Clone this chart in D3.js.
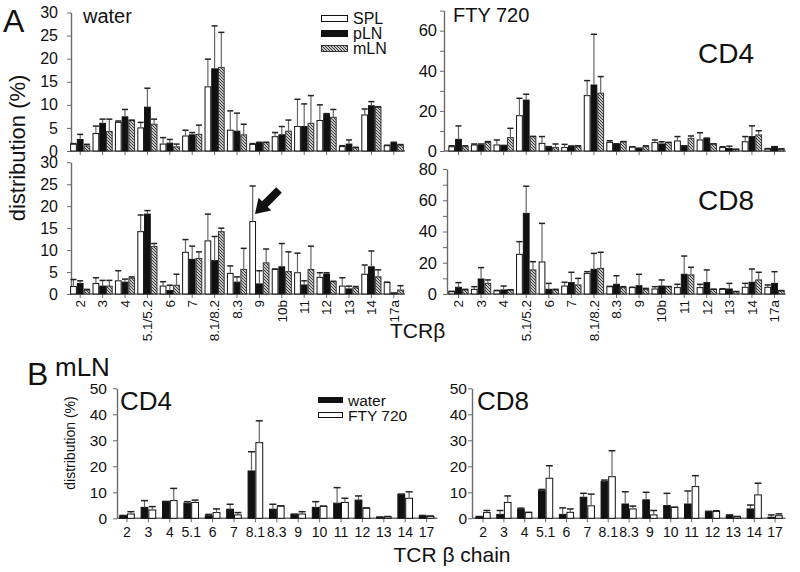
<!DOCTYPE html>
<html>
<head>
<meta charset="utf-8">
<script src="https://cdn.jsdelivr.net/npm/d3@7"></script>
<style>
  body { margin: 0; background: #fff; }
  svg { font-family: 'Liberation Sans', Arial, sans-serif; }
</style>
</head>
<body>
<svg id="chart" width="800" height="572"></svg>
<script>
// TCR beta chain categories
const tcrA = ['2', '3', '4', '5.1/5.2', '6', '7', '8.1/8.2', '8.3', '9', '10b', '11', '12', '13', '14', '17a']
const tcrB = ['2', '3', '4', '5.1', '6', '7', '8.1', '8.3', '9', '10', '11', '12', '13', '14', '17']

// A, water, CD4
const waterCD4SPL = [1.5, 3.8, 6.2, 5.0, 1.5, 3.25, 13.9, 4.5, 1.45, 3.1, 5.3, 6.6, 0.95, 7.8, 1.15]
const waterCD4SPLsd = [0.1, 1.6, 0.3, 1.2, 1.4, 1.25, 6.0, 4.2, 0.15, 0.9, 5.9, 3.4, 0.2, 1.3, 0.1]
const waterCD4pLN = [2.5, 6.0, 7.4, 9.5, 1.7, 3.5, 17.8, 4.3, 1.8, 3.5, 5.3, 8.0, 1.5, 9.8, 1.8]
const waterCD4pLNsd = [1.1, 0.9, 1.6, 4.1, 0.8, 0.5, 9.3, 3.9, 0.1, 1.8, 4.9, 0.1, 0.9, 0.9, 0.1]
const waterCD4mLN = [1.1, 4.2, 6.6, 5.8, 0.9, 3.6, 18.1, 3.5, 1.8, 4.3, 6.0, 7.3, 0.7, 9.5, 1.3]
const waterCD4mLNsd = [0.35, 2.7, 0.1, 1.1, 0.6, 2.0, 7.6, 2.3, 0.1, 2.4, 6.0, 1.7, 0.1, 0.1, 0.1]

// A, FTY 720, CD4
const ftyCD4SPL = [2.1, 3.0, 3.0, 17.6, 3.8, 1.7, 27.6, 4.3, 2.0, 4.2, 5.0, 5.5, 1.7, 4.6, 1.0]
const ftyCD4SPLsd = [0.5, 0.5, 2.5, 8.7, 3.4, 1.6, 7.5, 0.8, 0.1, 1.3, 2.2, 3.6, 0.4, 2.6, 0.2]
const ftyCD4pLN = [5.8, 3.0, 2.7, 25.4, 2.1, 2.4, 32.9, 3.5, 1.3, 3.5, 2.5, 6.3, 1.3, 7.2, 2.1]
const ftyCD4pLNsd = [6.7, 0.5, 0.1, 2.9, 0.1, 0.1, 25.3, 0.1, 0.1, 1.1, 0.1, 0.1, 1.1, 5.3, 0.1]
const ftyCD4mLN = [2.1, 4.2, 6.7, 7.2, 1.7, 2.1, 28.8, 4.6, 2.1, 4.2, 6.3, 3.5, 0.8, 8.0, 1.0]
const ftyCD4mLNsd = [0.5, 0.5, 4.6, 0.1, 1.8, 0.5, 8.3, 0.1, 0.5, 0.1, 1.2, 0.1, 0.1, 2.1, 0.1]

// A, water, CD8
const waterCD8SPL = [1.7, 2.4, 3.0, 14.2, 1.8, 9.5, 12.1, 4.7, 16.5, 5.6, 4.85, 3.8, 1.8, 4.5, 2.6]
const waterCD8SPLsd = [1.6, 1.3, 2.3, 3.8, 1.0, 2.9, 6.1, 1.7, 8.1, 0.1, 4.45, 1.05, 1.9, 2.1, 0.1]
const waterCD8pLN = [2.4, 1.8, 2.7, 18.2, 0.8, 7.9, 7.6, 2.7, 2.3, 6.2, 2.05, 4.55, 1.15, 6.2, 0.2]
const waterCD8pLNsd = [0.6, 1.3, 0.7, 0.8, 1.2, 3.0, 5.5, 1.2, 3.0, 5.3, 0.95, 0.3, 0.65, 3.6, 0]
const waterCD8mLN = [0.9, 1.8, 3.6, 10.8, 2.0, 8.1, 14.2, 5.6, 7.1, 5.1, 5.6, 2.8, 1.4, 3.9, 0.9]
const waterCD8mLNsd = [0.15, 1.3, 0.3, 0.7, 2.5, 1.5, 0.8, 4.8, 3.15, 4.5, 5.3, 0.1, 0.3, 1.6, 1.0]

// A, FTY 720, CD8
const ftyCD8SPL = [1.5, 3.0, 2.1, 25.4, 20.5, 5.1, 13.2, 4.7, 4.1, 3.2, 4.1, 4.1, 3.0, 4.3, 4.3]
const ftyCD8SPLsd = [0.2, 1.7, 0.2, 8.1, 24.7, 2.4, 1.1, 0.2, 0.2, 1.5, 2.1, 2.1, 0.4, 2.5, 1.5]
const ftyCD8pLN = [4.3, 9.6, 2.6, 51.6, 3.0, 7.3, 15.8, 6.2, 5.3, 5.1, 12.6, 7.3, 3.2, 7.5, 6.8]
const ftyCD8pLNsd = [3.0, 7.3, 2.5, 17.4, 3.8, 6.6, 10.2, 5.5, 7.3, 3.9, 11.7, 8.1, 3.6, 8.5, 7.5]
const ftyCD8mLN = [2.6, 6.8, 2.6, 15.4, 2.6, 5.8, 16.4, 4.1, 3.0, 4.7, 12.2, 3.0, 1.5, 9.0, 2.1]
const ftyCD8mLNsd = [0.4, 2.2, 0.1, 5.3, 0.4, 4.2, 10.3, 0.6, 0.6, 0.1, 4.9, 0.1, 0.1, 4.9, 0.1]

// B, mLN, CD4
const mlnCD4Water = [1.0, 4.2, 6.4, 5.8, 1.0, 3.5, 18.2, 3.5, 1.5, 4.2, 5.8, 7.0, 0.4, 9.2, 1.0]
const mlnCD4WaterSd = [0.1, 2.6, 0.1, 0.6, 0.5, 1.9, 7.4, 1.9, 0.1, 2.2, 6.0, 1.6, 0.1, 0.1, 0.1]
const mlnCD4Fty = [1.65, 3.2, 6.8, 6.1, 2.2, 1.3, 29.1, 4.7, 1.65, 4.6, 6.1, 3.9, 0.6, 7.7, 0.7]
const mlnCD4FtySd = [0.9, 1.3, 4.7, 0.9, 1.4, 0.9, 8.4, 0.1, 0.9, 0.1, 1.6, 0.1, 0.1, 2.5, 0.2]

// B, mLN, CD8
const mlnCD8Water = [0.6, 1.5, 3.5, 10.6, 1.5, 8.1, 14.1, 5.5, 7.1, 4.9, 5.5, 2.6, 1.2, 3.6, 0.4]
const mlnCD8WaterSd = [0.1, 1.5, 0.4, 0.5, 2.5, 1.5, 0.6, 4.7, 2.9, 4.7, 5.0, 0.1, 0.1, 1.5, 0.9]
const mlnCD8Fty = [2.2, 6.1, 2.2, 15.4, 2.3, 4.8, 16.0, 3.6, 1.3, 4.2, 12.2, 2.6, 0.6, 9.0, 1.0]
const mlnCD8FtySd = [0.8, 2.5, 0.1, 4.8, 1.3, 4.5, 10.0, 1.1, 1.7, 0.1, 4.2, 0.3, 0.1, 4.5, 0.7]

const axisColor = '#6a6a6a'
const textColor = '#111'

const svg = d3.select('#chart')

// diagonal hatch for mLN bars
const hatch = svg.append('defs').append('pattern')
  .attr('id', 'hatch')
  .attr('patternUnits', 'userSpaceOnUse')
  .attr('width', 3)
  .attr('height', 3)
hatch.append('rect').attr('width', 3).attr('height', 3).attr('fill', '#fff')
hatch.append('path')
  .attr('d', 'M-1,-1L4,4M-1,2L1,4M2,-1L4,1')
  .attr('stroke', '#333')
  .attr('stroke-width', 1.1)

const barStyles = {
  white: { fill: '#fff', stroke: '#111' },
  black: { fill: '#111', stroke: '#111' },
  hatch: { fill: 'url(#hatch)', stroke: '#333' }
}

function drawPanel (p) {
  const g = svg.append('g')

  const x = d3.scaleBand()
    .domain(p.cats)
    .range(p.xRange)
    .paddingInner(p.padIn)
    .paddingOuter(p.padOut)
  const xs = d3.scaleBand()
    .domain(d3.range(p.series.length))
    .range([0, x.bandwidth()])
  const y = d3.scaleLinear()
    .domain([0, p.yMax])
    .range(p.yRange)

  // y axis
  const yAxis = d3.axisLeft(y)
    .tickValues(d3.range(0, p.yMax + 1, p.tickStep))
    .tickFormat(d => d % p.labelStep === 0 ? d : '')
    .tickSize(4)
    .tickSizeOuter(0)
    .tickPadding(p.yPad)
  const yg = g.append('g')
    .attr('transform', `translate(${p.axisX},0)`)
    .attr('color', axisColor)
    .call(yAxis)
  yg.select('.domain').attr('stroke-width', 1.4)
  yg.selectAll('text')
    .attr('fill', textColor)
    .style('font-size', p.yFont + 'px')

  // x axis, ticks at group centres
  const xg = g.append('g')
    .attr('transform', `translate(0,${p.yRange[0]})`)
    .attr('color', axisColor)
    .call(d3.axisBottom(x).tickSize(4).tickSizeOuter(0).tickPadding(5))
  xg.select('.domain').remove()
  xg.append('line')
    .attr('x1', p.axisX)
    .attr('x2', p.xRange[1])
    .attr('stroke', axisColor)
    .attr('stroke-width', 1.4)

  if (p.xLabels === 'rotate') {
    xg.selectAll('.tick text')
      .attr('fill', textColor)
      .style('font-size', '13.5px')
      .attr('transform', 'rotate(-90)')
      .attr('x', -6)
      .attr('y', 0)
      .attr('dy', '0.35em')
      .style('text-anchor', 'end')
  } else if (p.xLabels === 'flat') {
    xg.selectAll('.tick text')
      .attr('fill', textColor)
      .style('font-size', '14px')
  } else {
    xg.selectAll('.tick text').remove()
  }

  // bars
  p.series.forEach((s, i) => {
    const st = barStyles[s.style]
    g.append('g').selectAll('rect')
      .data(p.cats)
      .join('rect')
      .attr('x', d => x(d) + xs(i) + 0.5)
      .attr('y', (d, j) => y(s.values[j]))
      .attr('width', xs.bandwidth() - 1)
      .attr('height', (d, j) => y(0) - y(s.values[j]))
      .attr('fill', st.fill)
      .attr('stroke', st.stroke)
      .attr('stroke-width', 1)
  })

  // error bars (upper only)
  p.series.forEach((s, i) => {
    const eg = g.append('g')
    const cx = d => x(d) + xs(i) + xs.bandwidth() / 2
    const half = xs.bandwidth() * 0.45
    eg.selectAll('line.v')
      .data(p.cats)
      .join('line')
      .attr('class', 'v')
      .attr('x1', cx)
      .attr('x2', cx)
      .attr('y1', (d, j) => y(s.values[j]))
      .attr('y2', (d, j) => y(s.values[j] + s.sd[j]))
      .attr('stroke', '#666')
      .attr('stroke-width', 1.2)
    eg.selectAll('line.c')
      .data(p.cats)
      .join('line')
      .attr('class', 'c')
      .attr('x1', d => cx(d) - half)
      .attr('x2', d => cx(d) + half)
      .attr('y1', (d, j) => y(s.values[j] + s.sd[j]))
      .attr('y2', (d, j) => y(s.values[j] + s.sd[j]))
      .attr('stroke', '#222')
      .attr('stroke-width', 1.5)
  })
}

const seriesA = (spl, splSd, pln, plnSd, mln, mlnSd) => [
  { values: spl, sd: splSd, style: 'white' },
  { values: pln, sd: plnSd, style: 'black' },
  { values: mln, sd: mlnSd, style: 'hatch' }
]
const seriesB = (water, waterSd, fty, ftySd) => [
  { values: water, sd: waterSd, style: 'black' },
  { values: fty, sd: ftySd, style: 'white' }
]

drawPanel({
  cats: tcrA,
  series: seriesA(waterCD4SPL, waterCD4SPLsd, waterCD4pLN, waterCD4pLNsd, waterCD4mLN, waterCD4mLNsd),
  xRange: [69, 405], padIn: 0.1, padOut: 0.05, axisX: 71,
  yMax: 30, yRange: [151, 12.5], tickStep: 5, labelStep: 5, yPad: 9, yFont: 16,
  xLabels: 'none'
})
drawPanel({
  cats: tcrA,
  series: seriesA(ftyCD4SPL, ftyCD4SPLsd, ftyCD4pLN, ftyCD4pLNsd, ftyCD4mLN, ftyCD4mLNsd),
  xRange: [447.2, 785.8], padIn: 0.1, padOut: 0.05, axisX: 444,
  yMax: 70, yRange: [151, 10.6], tickStep: 10, labelStep: 20, yPad: 3, yFont: 16.5,
  xLabels: 'none'
})
drawPanel({
  cats: tcrA,
  series: seriesA(waterCD8SPL, waterCD8SPLsd, waterCD8pLN, waterCD8pLNsd, waterCD8mLN, waterCD8mLNsd),
  xRange: [69, 405], padIn: 0.1, padOut: 0.05, axisX: 71,
  yMax: 30, yRange: [294, 162.3], tickStep: 5, labelStep: 5, yPad: 9, yFont: 16,
  xLabels: 'rotate'
})
drawPanel({
  cats: tcrA,
  series: seriesA(ftyCD8SPL, ftyCD8SPLsd, ftyCD8pLN, ftyCD8pLNsd, ftyCD8mLN, ftyCD8mLNsd),
  xRange: [447.2, 785.8], padIn: 0.1, padOut: 0.05, axisX: 447,
  yMax: 80, yRange: [294, 169], tickStep: 10, labelStep: 20, yPad: 6, yFont: 16.5,
  xLabels: 'rotate'
})
drawPanel({
  cats: tcrB,
  series: seriesB(mlnCD4Water, mlnCD4WaterSd, mlnCD4Fty, mlnCD4FtySd),
  xRange: [116.3, 437.3], padIn: 0.27, padOut: 0.135, axisX: 117,
  yMax: 50, yRange: [518.3, 388.3], tickStep: 10, labelStep: 10, yPad: 6, yFont: 15.5,
  xLabels: 'flat'
})
drawPanel({
  cats: tcrB,
  series: seriesB(mlnCD8Water, mlnCD8WaterSd, mlnCD8Fty, mlnCD8FtySd),
  xRange: [472.6, 785.5], padIn: 0.27, padOut: 0.135, axisX: 472,
  yMax: 50, yRange: [518.3, 388.3], tickStep: 10, labelStep: 10, yPad: 1, yFont: 15.5,
  xLabels: 'flat'
})

// text labels
const label = (txt, x, y, size, anchor = 'start') => svg.append('text')
  .attr('x', x)
  .attr('y', y)
  .attr('fill', textColor)
  .style('font-size', size + 'px')
  .style('text-anchor', anchor)
  .text(txt)

label('A', 3, 32, 32)
label('water', 83, 23, 20)
label('FTY 720', 453, 22, 20)
label('CD4', 698, 63, 28)
label('CD8', 698, 210, 28)
label('TCRβ', 390, 338, 21)
label('B', 27, 385, 32)
label('mLN', 55, 376, 26)
label('CD4', 120, 410, 26)
label('CD8', 477, 410, 26)
label('TCR β chain', 452, 562, 21, 'middle')

svg.append('text')
  .attr('transform', 'translate(25,148) rotate(-90)')
  .attr('fill', textColor)
  .style('font-size', '22px')
  .style('text-anchor', 'middle')
  .text('distribution (%)')
svg.append('text')
  .attr('transform', 'translate(75,443) rotate(-90)')
  .attr('fill', textColor)
  .style('font-size', '14px')
  .style('text-anchor', 'middle')
  .text('distribution (%)')

// legend A
const legendA = [['SPL', 'white'], ['pLN', 'black'], ['mLN', 'hatch']]
legendA.forEach(([name, style], i) => {
  svg.append('rect')
    .attr('x', 321.5)
    .attr('y', 15.5 + i * 15)
    .attr('width', 26)
    .attr('height', 6)
    .attr('fill', barStyles[style].fill)
    .attr('stroke', barStyles[style].stroke)
  label(name, 353, 24 + i * 15, 16)
})

// legend B
const legendB = [['water', 'black'], ['FTY 720', 'white']]
legendB.forEach(([name, style], i) => {
  svg.append('rect')
    .attr('x', 318.5)
    .attr('y', 397.5 + i * 15)
    .attr('width', 24)
    .attr('height', 5)
    .attr('fill', barStyles[style].fill)
    .attr('stroke', barStyles[style].stroke)
  label(name, 348, 406 + i * 15, 15.5)
})

// arrow pointing at TCR 9 SPL bar
svg.append('path')
  .attr('d', 'M0,0L14,-9L14,-4L34,-4L34,4L14,4L14,9Z')
  .attr('transform', 'translate(255,214) rotate(-45)')
  .attr('fill', '#111')
</script>
</body>
</html>
